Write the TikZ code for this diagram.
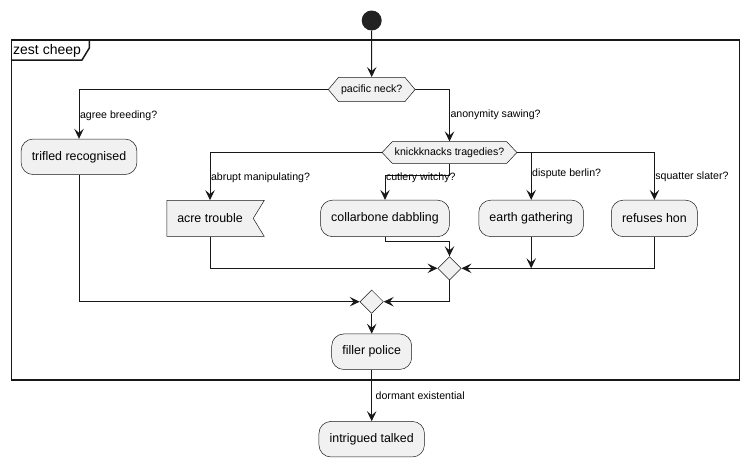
\documentclass[tikz,border=0pt]{standalone}
\usepackage{fontspec}
\setmainfont{Liberation Sans}
\usetikzlibrary{arrows.meta,shapes.geometric,shapes.symbols}
\pgfdeclarelayer{bg}
\pgfsetlayers{bg,main}
\definecolor{boxfill}{HTML}{F1F1F1}
\definecolor{ink}{HTML}{181818}
\definecolor{dot}{HTML}{222222}
\tikzset{
    act/.style={rectangle, rounded corners=12pt, draw=ink, line width=.5pt, fill=boxfill, minimum height=35.5pt, inner xsep=10.7pt, font=\fontsize{12.4}{14}\selectfont},
    flag/.style={signal, signal to=nowhere, signal from=east, signal pointer angle=117, draw=ink, line width=.5pt, fill=boxfill, minimum height=36pt, inner xsep=10.5pt, font=\fontsize{12.4}{14}\selectfont},
    cond/.style={signal, signal to=west and east, signal pointer angle=100, draw=ink, line width=.5pt, fill=boxfill, inner xsep=2.5pt, inner ysep=0pt, font=\fontsize{10.6}{12}\selectfont},
    merge/.style={diamond, draw=ink, line width=.5pt, fill=boxfill, minimum size=23.5pt, inner sep=0pt},
    lbl/.style={anchor=west, inner sep=.5pt, font=\fontsize{10.6}{12}\selectfont},
    flow/.style={draw=ink, line width=1pt, -{Stealth[length=10pt, width=9.5pt, inset=4pt]}}
}
\begin{document}
\begin{tikzpicture}[x=1pt, y=-1pt]
        \useasboundingbox (0,0) rectangle (750,466);
        \draw[ink, line width=1.5pt] (11.7,40) rectangle (739.3,380);
        \draw[ink, line width=1.5pt] (11.7,60) -- (82,60) -- (89.3,48) -- (89.3,40);
        \node (t0) [anchor=west, inner sep=0pt, font=\fontsize{14}{16}\selectfont] at (13,51.2) {zest cheep};
        \node (s0) [circle, fill=dot, minimum size=20pt, inner sep=0pt] at (371.7, 20.5) {};
        \node (d0) [cond, minimum height=24.4pt] at (371.7, 89.5) {pacific neck?};
        \node (a0) [act] at (79, 156.8) {trifled recognised};
        \node (d1) [cond, minimum height=21.6pt, signal pointer angle=94] at (449.5, 152.5) {knickknacks tragedies?};
        \node (a1) [flag] at (210, 218.4) {acre trouble};
        \node (a2) [act, minimum height=36.5pt] at (385, 218.4) {collarbone dabbling};
        \node (a3) [act, minimum height=36.5pt] at (531.2, 218.4) {earth gathering};
        \node (a4) [act, minimum height=36.5pt] at (654.4, 218.4) {refuses hon};
        \node (m0) [merge] at (449.5, 268.3) {};
        \node (m1) [merge] at (371.7, 301.7) {};
        \node (a5) [act] at (371.7, 351.7) {filler police};
        \node (a6) [act] at (371.7, 439.2) {intrigued talked};
        \begin{pgfonlayer}{bg}
                \draw[flow] (s0) -- (d0);
                \draw[flow] (d0.west) -| (a0.north) node[lbl, pos=.77] {agree breeding?};
                \draw[flow] (d0.east) -| (d1.north) node[lbl, pos=.745] {anonymity sawing?};
                \draw[flow] (d1.west) -| (a1.north) node[lbl, pos=.765] {abrupt manipulating?};
                \draw[flow] (d1.south) -- ++(0,11.7) -| (a2.north) node[lbl, pos=.56] {cutlery witchy?};
                \draw[flow] (d1.east) -| (a3.north) node[lbl, pos=.72] {dispute berlin?};
                \draw[flow] (d1.east) -| (a4.north) node[lbl, pos=.76] {squatter slater?};
                \draw[flow] (a1.south) |- (m0.west);
                \draw[flow] (a2.south) -- ++(0,4.3) -| (m0.north);
                \draw[flow] (a3.south) -- (a3.south |- m0.center);
                \draw[flow] (a4.south) |- (m0.east);
                \draw[flow] (a0.south) |- (m1.west);
                \draw[flow] (m0.south) |- (m1.east);
                \draw[flow] (m1) -- (a5);
                \draw[flow] (a5) -- (a6) node[lbl, pos=.51, xshift=3pt] {dormant existential};
        \end{pgfonlayer}
\end{tikzpicture}
\end{document}
